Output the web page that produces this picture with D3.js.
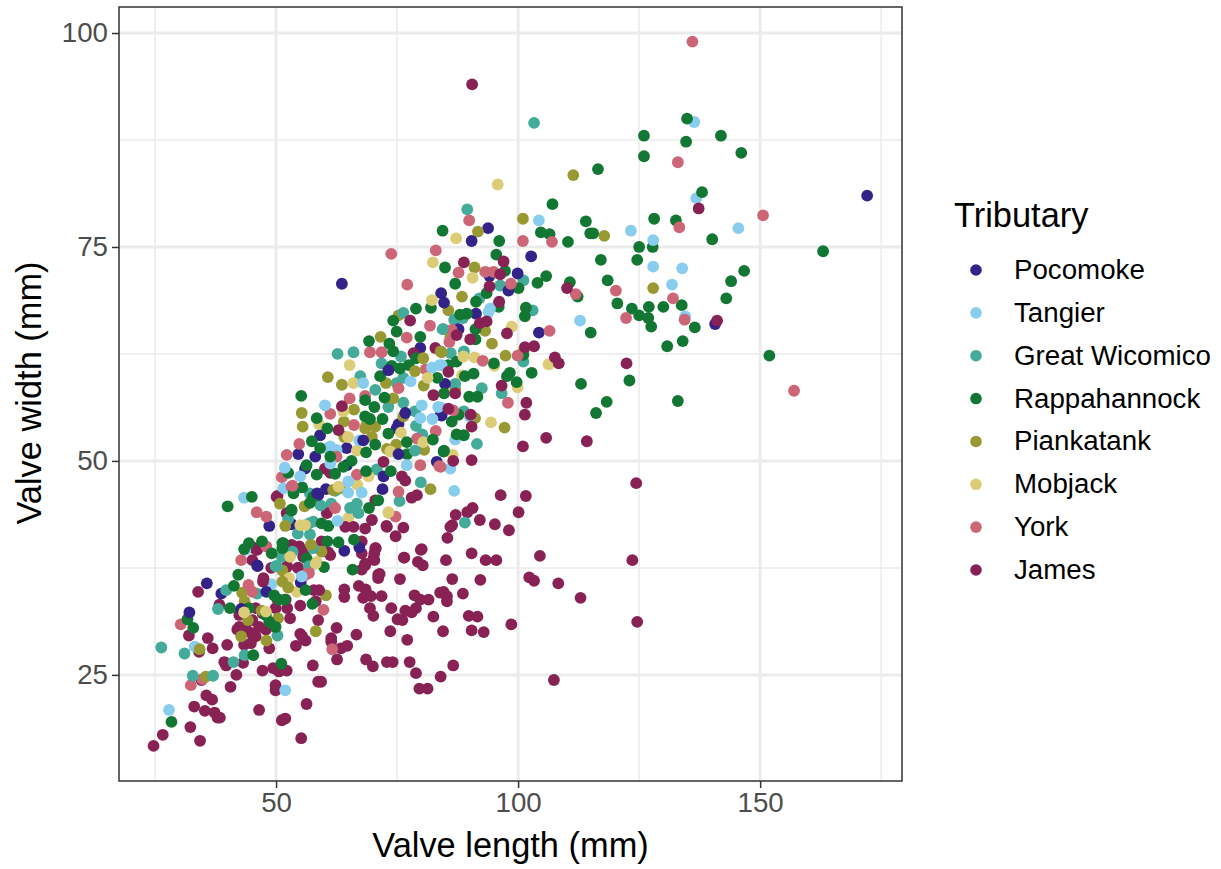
<!DOCTYPE html>
<html><head><meta charset="utf-8">
<script src="https://cdn.jsdelivr.net/npm/d3@7"></script>
<style>html,body{margin:0;padding:0;background:#fff}svg{display:block}text{font-family:"Liberation Sans",Arial,sans-serif}</style>
</head><body><div id="chart"></div>
<script>
const tributaries=["Pocomoke","Tangier","Great Wicomico","Rappahannock","Piankatank","Mobjack","York","James"];
const palette=["#332288","#88CCEE","#44AA99","#117733","#999933","#DDCC77","#CC6677","#882255"];
const xMajor=[50,100,150], xMinor=[25,75,125,175], yMajor=[25,50,75,100], yMinor=[37.5,62.5,87.5];
const pocomoke=[[172.1,81],[93.8,77.2],[63.6,70.7],[84.1,69.6],[102.7,73.9],[104.3,65],[140.7,66],[90.4,75.7],[94.1,71.6],[99.9,71.9],[98,69.9],[91.3,67.2],[84.7,68.5],[87.7,65.4],[84.2,55.3],[84.9,59],[79.8,63.2],[84,55.4],[75.3,54.3],[74.9,53.8],[83.2,49.9],[59.1,53],[54.6,50.8],[58.1,50.5],[64.6,51.5],[64.6,49.5],[56,49.1],[72.2,48.2],[72,46.7],[60.3,46.7],[58.7,46],[48.6,42.4],[53.2,42.6],[64.1,39.5],[67.2,39.9],[46.1,37.8],[73.2,60.6],[68,52.4],[75.3,50.8],[76.7,55.6],[35.7,35.7],[38.7,34.5],[48,34.7],[55.1,35.8],[42.8,32.7],[32.1,32.3],[58.5,46.2],[46.2,37.7]];
const tangier=[[136.4,89.6],[136.8,80.7],[145.5,77.2],[104.3,78.1],[123.3,76.9],[127.9,75.8],[127.9,72.7],[133.9,72.5],[131.8,70.6],[134.5,66.9],[112.8,66.4],[94.2,67.8],[93.9,67.4],[87,52.5],[86,49.1],[84.2,61.2],[90,55.2],[84.2,56.2],[86.8,46.5],[51.9,23.2],[27.9,20.9],[43.4,45.7],[33.2,28.3],[49,35.6],[55.4,36.4],[43.7,39.6],[51.5,46.8],[82.2,60.9],[83.8,61.2],[77.8,59.3],[68,59.1],[60.1,56.5],[80.1,56.5],[79.8,55],[82.3,54.9],[83.5,56.3],[67.2,52.4],[61.2,51.7],[60.6,51.5],[62.5,51.3],[61.2,49.7],[51.8,49.2],[55,48.2],[64.9,47.6],[64.9,46.3],[67.7,46.3],[62.7,43],[55.3,36.5],[77,49.5]];
const greatWicomico=[[103.3,89.5],[89.5,79.4],[101.1,71.1],[103,67.6],[95.9,68.3],[92,69],[96.3,70.5],[88.6,66.7],[86.8,66.5],[84.6,65.4],[86.1,62.6],[88.8,62.8],[92.5,58.5],[96.6,57.9],[101.1,61.6],[88.8,55.8],[91.5,52],[87,59],[89,42.8],[62.7,62.5],[66,62.7],[71.8,61.4],[75.8,62.2],[76.3,67.3],[84.4,65.4],[74.9,59.1],[76.3,59.7],[67.4,59.9],[70.5,58.3],[73.2,56.3],[76.3,56.8],[80.2,53.1],[78.9,54.1],[78.7,55.8],[70.8,49],[79.9,47.5],[75.5,45.3],[66.7,45],[65.3,44.5],[67,43.9],[61.4,45],[59.2,44.8],[57,46.2],[62.2,46.5],[56.8,42.7],[57.7,42.9],[52.5,43.2],[54.5,41.5],[57,41.4],[53.4,39.4],[51.2,38.8],[50.1,37.7],[56.9,37.6],[57.6,39.8],[78.7,51.2],[56.8,37.7],[49.9,37.7],[46.1,34.5],[39.7,34.9],[38,32.7],[50.3,29.6],[43.5,27.3],[41.2,26.5],[26.3,28.2],[31.1,27.5],[32.8,24.9],[37,24.9]];
const rappahannock=[[107.1,80],[84.4,76.9],[114,78],[128.1,78.3],[132.6,78.1],[104.7,76.7],[106.5,76.5],[114.9,76.6],[115.5,76.6],[110.3,75.6],[96.1,75.7],[125,75],[127.8,75],[95.5,74.1],[117.1,73.5],[124.6,73.5],[84.9,72.6],[97.3,72.2],[105.8,71.6],[104,70.8],[87,70.7],[118.5,71.1],[110.7,70.9],[112.3,69.2],[100.1,70.2],[93.5,69.6],[91.3,68.6],[96,68],[120.5,68.4],[123.5,67.8],[127,68],[125,67],[126.9,66.7],[127.5,65.7],[130,68],[133.8,68.2],[136.5,65.6],[130.8,63.4],[134,64],[115,65],[101.6,67.9],[101.4,66.9],[89.4,67.2],[88,67.1],[91.2,65.4],[91.2,64.2],[85.6,61.2],[87.3,61.6],[95,61.4],[90.8,60.2],[89,59.9],[98.3,60.3],[97.7,59.9],[99.7,59.2],[102.8,60.3],[101.1,62.4],[113,59],[123,59.4],[118.3,56.9],[116.1,55.6],[133,57],[89.9,57.5],[91.6,57.5],[87.7,55.4],[86.3,54.6],[88.8,53],[87.3,53.1],[84.7,51.2],[84.7,57.9],[134.9,90],[126,88],[141.9,88],[134.7,87.3],[126,85.6],[146.1,86],[138,81.4],[116.5,84.1],[140.1,75.9],[163,74.5],[146.7,72.2],[144,71],[143,69],[151.9,62.3],[78.9,67.8],[82,67.9],[74.2,66.4],[74.9,65.1],[79.8,64.5],[69.2,64],[73.4,63.7],[74.2,62.8],[77.4,61.2],[73.9,61.1],[71.5,59.9],[83.3,59.7],[75.6,60.8],[78.9,62],[55.2,57.6],[58.4,55],[60.6,53.8],[57.4,52.3],[68.4,57.1],[72.4,57.4],[70.3,56.3],[68.4,55.2],[69.4,54.9],[72,54.9],[73.2,53.2],[82.4,52.5],[84.6,51.1],[77,52.2],[77.1,50.8],[70.5,51.9],[68.6,51],[65.6,50],[68.6,48.8],[73.7,48.8],[62.2,48.5],[56.3,49.5],[52.5,48.6],[58.4,48.4],[55.4,46.9],[53.6,46.2],[57,45.1],[53.2,44.3],[59.4,42.7],[60.8,42.4],[69.2,44.5],[71.1,45.4],[66.1,40.8],[60.6,40.6],[62.9,40.5],[51.5,40.4],[47.1,40.6],[49.1,39.2],[56.3,38.6],[59.9,37.6],[65.8,37.3],[45,45.8],[57.7,45.8],[61.2,50.5],[59.1,51.5],[63.9,49.3],[40,44.7],[44.4,40.4],[43.4,39.7],[51.3,40.4],[51.3,39.8],[42.2,36.7],[41.3,35.4],[40.5,32.8],[44.4,32.8],[32.9,30.5],[31.7,31.5],[28.4,19.5],[45.3,27.3],[51.1,26.3],[47.9,32],[48.6,31.2],[49.9,30.6],[49.6,34.3],[50.6,33.8],[51.8,33.8],[56.1,34.9],[57.5,33.3],[53.2,44.2]];
const piankatank=[[111.4,83.4],[101,78.3],[117.8,76.3],[127.9,70.2],[91.7,76.8],[91,72.6],[88.4,69.2],[85.6,67.6],[93.2,65.2],[86,64.5],[94.6,63.7],[97.4,62.3],[84.2,62.7],[101.1,62.8],[87,58.4],[91.1,55],[97.2,53.9],[81.9,46.7],[60.3,34.3],[75.3,67],[71.6,64.5],[60.7,59.8],[63.6,58.9],[55.3,55.6],[55.5,54],[72.7,59.1],[66.1,56],[64,54.6],[64.1,52.8],[68.7,54.2],[70.5,54],[68.4,53.8],[69.8,52.8],[74.2,57.3],[76.3,55.2],[72.9,51.4],[74.8,51.9],[80.6,51.3],[80.5,58.8],[78.7,60.5],[80.4,62],[84,62.8],[55.9,44.7],[50.8,45],[51.9,42.4],[63.2,46.8],[51.3,37.2],[59.4,39.4],[61.8,46.6],[43,34.6],[43.5,33.6],[47,32.5],[44.2,31.4],[50.4,31.6],[42.8,29.5],[48,29],[34.2,28],[35.5,24.8],[51.3,35.9],[52.5,35.2],[58.2,30.1],[57.2,40.2]];
const mobjack=[[95.8,82.3],[87.2,76],[82.4,73.2],[90.6,71.4],[98.7,65.7],[91,62.1],[95.1,61.1],[88.4,60],[106.3,61.3],[99.9,58.6],[94.4,54.5],[86.5,50.7],[88.7,62.2],[73.3,43.9],[64.9,43.3],[66.8,47.2],[65.2,61.2],[66,59.1],[58.9,54.3],[63.9,55.8],[64.9,52.8],[66.7,51.2],[75.8,53.3],[73.6,51.1],[80.4,52.2],[81.3,59.7],[69.1,48.2],[73.2,44],[56,42.5],[58.4,38.2],[62.9,47],[52.9,38.8],[55,42.5],[82.2,68.8],[54.3,34.7],[52.7,36.3],[58.2,38],[47.9,32.4],[43.4,32.3]];
const york=[[136,99],[133,84.9],[133.3,77.3],[150.6,78.7],[157,58.2],[73.8,74.2],[83,74.6],[89.9,78.1],[77.1,70.6],[101,75.7],[107,75.6],[87.7,72],[93.2,72.1],[94.9,72.1],[120.2,69.9],[111.9,69.5],[132,69],[122.3,66.7],[134.4,66.5],[106.5,65.2],[98.5,70.7],[86.3,65.3],[85.8,63.9],[92.7,61.7],[99.9,62.3],[97.9,56.8],[86.6,55.9],[84,49.3],[77,64.4],[81.8,65.8],[69.4,62.7],[71.8,62.7],[80.9,60.7],[68.4,57.6],[65.2,57.3],[61.2,55.5],[66.1,54.2],[83,53.5],[79.1,52.6],[54.8,52],[52.2,50.7],[79.8,49.5],[51.2,48.1],[53.2,47],[66.7,48.4],[74.7,43.5],[75.3,46.4],[62.2,44.5],[46,44],[48,43.5],[83.7,49.4],[48,40],[62.5,50.5],[75.3,58.5],[42.8,38.4],[44.3,35.5],[45.1,34.7],[30.3,30.9],[32.4,23.8],[34.8,24.5],[53.4,47.1],[56.8,36.9],[56.1,36.7],[61.6,28],[59.8,32.6]];
const james=[[124.4,47.4],[96.4,46],[101.6,45.9],[78,45.7],[79.1,46],[90.6,44.5],[89.5,44],[100.1,44],[87.1,43.7],[92.1,43.1],[86.4,42.5],[95.2,42.6],[98.1,41.9],[76.3,42.2],[72.8,42.4],[74.7,41.2],[85.4,41],[79.9,39.6],[70.6,39.8],[70.3,39.2],[70.3,38.4],[76.4,38.7],[90.4,39.2],[79.3,38.2],[80.3,37.8],[85.1,38.4],[93.3,38.4],[95.5,38.4],[104.5,38.9],[123.6,38.4],[68.4,38],[67.7,37.3],[71.4,36.8],[71.1,36.3],[75.6,36.2],[86.4,36.2],[92.2,36.1],[102.3,36.4],[103.3,36],[108.3,35.7],[112.9,34],[67.1,35.4],[68.5,35],[64.1,35],[64.1,34.1],[68,34],[69.6,34.2],[71.8,34.2],[78.6,34.3],[79.8,33.8],[81.5,33.8],[83.9,34.6],[84.6,34.7],[85.3,34.2],[85.3,33.6],[88.6,34.5],[69.4,32.8],[70.1,31.9],[73.8,32.8],[76.7,32.5],[78.9,32.8],[78,32.3],[82.5,31.8],[89.8,31.9],[91.6,31.8],[75.1,31.5],[76.1,31.4],[98.6,30.9],[124.6,31.2],[62.5,30.5],[66.6,29.7],[73.6,30.1],[84.5,30.1],[90.4,30.2],[92.9,30],[77.1,29.1],[61.4,29.3],[61.4,28.9],[64.7,28.4],[63.4,28.1],[62.6,26.8],[68.6,26.8],[70,26],[72.9,26.5],[74.1,26.5],[77.6,26.5],[86.6,26.1],[78.9,25.2],[84,24.8],[107.4,24.4],[79.6,23.4],[81.3,23.4],[59.3,24.2],[24.7,16.7],[26.6,18],[32.3,18.9],[34.3,17.3],[33.1,21.3],[35.3,20.8],[37.3,20.6],[38.4,20],[37.9,20],[35.6,22.6],[36.8,22.1],[40.6,23.6],[46.5,20.9],[51.2,19.7],[51.9,19.9],[55.2,17.6],[56.3,21.6],[49.9,23.8],[49.9,23.2],[41.8,25],[34.6,24.4],[47.2,25.5],[49.4,25.8],[50.6,25.4],[52.2,25.5],[57.6,26.1],[58.7,24.2],[39.3,26.5],[39.7,26.1],[43.2,26.4],[36.9,28.1],[39.9,28.5],[34.1,27.7],[32,29.6],[35.9,29.3],[54.1,28.4],[55,29.8],[56.1,29],[55.4,29.5],[48.6,28.1],[52.9,31.6],[55,33.1],[38.3,33.2],[33.9,34.7],[42.4,32],[42,30.3],[43.7,30.6],[45.1,31.4],[46.5,30.6],[45.8,29.5],[43.4,28.5],[44.8,28.7],[42.7,32.2],[45.8,32.8],[47.9,30.3],[44.8,29.9],[47.2,32.2],[44.1,32.8],[42.4,30.6],[49.9,32.8],[52.3,32.8],[47.3,35.9],[50.3,45.9],[45.5,39.8],[45.1,38.4],[52.3,43.9],[49,37.5],[52.3,37.7],[54.5,37.5],[58.2,33.6],[58.9,34.9],[58.7,31.4],[57.8,34.9],[54.8,40],[55.8,39.4],[46.1,39.6],[50.3,33.8],[52,33.8],[53.4,39.8],[77.7,66.4],[78.4,62.6],[82.9,63.2],[82.5,57.7],[63.6,56.4],[62.9,53.6],[72.2,49.9],[76,48.2],[76.7,47.7],[60.1,49.1],[61.2,48.6],[70.5,45.4],[69.8,43.1],[60.5,43.9],[64.3,42.3],[66,42.3],[68.4,42.1],[72.9,42.3],[86,42.3],[80.1,39.7],[76.5,38.7],[70.5,39.8],[70.1,38.6],[68.4,37.8],[71.1,36.7],[67.7,40.6],[67.7,39.2],[52.2,43.9],[50.1,45.8],[54.3,39.8],[53.2,40.2],[46,39.8],[61.2,39],[54.6,37.5],[52.2,37.6],[47.4,36.3],[59.4,40.6],[60.8,39.3],[55.6,38.8],[88.8,73.2],[97,73.3],[96.3,71.8],[94.1,70.4],[96.1,68.6],[93.5,66.3],[92.1,66.1],[87.3,64.7],[90.1,64.2],[97.7,64.9],[107.6,62.1],[108.4,61.4],[103.3,63.4],[101.4,63.3],[110.1,70.2],[122.4,61.4],[96.6,58.8],[101.7,56.8],[101.4,55.4],[105.8,52.7],[101,51.7],[114.2,52.3],[90.4,50.1],[90.4,54],[90.2,55.4],[86.6,50],[87,57.9],[85.6,60.4],[137.3,79.5],[85.6,56.1],[141.1,66.4],[90.5,94]];
const seriesValues=[pocomoke,tangier,greatWicomico,rappahannock,piankatank,mobjack,york,james];

const W=1221,H=869;
const panel={left:119,right:902,top:7,bottom:781};
const x=d3.scaleLinear().domain([17.56,179.3]).range([panel.left,panel.right]);
const y=d3.scaleLinear().domain([12.6,103.04]).range([panel.bottom,panel.top]);
const color=d3.scaleOrdinal(tributaries,palette);
const svg=d3.select("#chart").append("svg").attr("width",W).attr("height",H);
const tickSize=27.7, titleSize=34.4;

const grid=svg.append("g").attr("fill","none").attr("stroke","#EBEBEB");
grid.selectAll(".vn").data(xMinor).join("line").attr("x1",x).attr("x2",x).attr("y1",panel.top).attr("y2",panel.bottom).attr("stroke-width",1.5);
grid.selectAll(".hn").data(yMinor).join("line").attr("y1",y).attr("y2",y).attr("x1",panel.left).attr("x2",panel.right).attr("stroke-width",1.5);
grid.selectAll(".vm").data(xMajor).join("line").attr("x1",x).attr("x2",x).attr("y1",panel.top).attr("y2",panel.bottom).attr("stroke-width",3);
grid.selectAll(".hm").data(yMajor).join("line").attr("y1",y).attr("y2",y).attr("x1",panel.left).attr("x2",panel.right).attr("stroke-width",3);

const points=seriesValues.flatMap((arr,s)=>arr.map((d,i)=>({l:d[0],w:d[1],t:tributaries[s],o:((i+0.5)/arr.length)*(s===7?0.8:1)+s*0.0007})));
points.sort((a,b)=>a.o-b.o);
svg.append("g").selectAll("circle").data(points).join("circle")
  .attr("cx",d=>x(d.l)).attr("cy",d=>y(d.w)).attr("r",5.9).attr("fill",d=>color(d.t));

svg.append("rect").attr("x",panel.left).attr("y",panel.top).attr("width",panel.right-panel.left).attr("height",panel.bottom-panel.top)
  .attr("fill","none").attr("stroke","#333333").attr("stroke-width",1.5);

const gx=svg.append("g").attr("transform",`translate(0,${panel.bottom})`).call(d3.axisBottom(x).tickValues(xMajor).tickSize(7).tickPadding(4).tickFormat(d3.format("d")));
const gy=svg.append("g").attr("transform",`translate(${panel.left},0)`).call(d3.axisLeft(y).tickValues(yMajor).tickSize(7).tickPadding(4).tickFormat(d3.format("d")));
[gx,gy].forEach(g=>{g.select(".domain").remove();g.selectAll(".tick line").attr("stroke","#333333").attr("stroke-width",1.5);
  g.selectAll("text").attr("fill","#4D4D4D").attr("font-size",tickSize).attr("font-family",'"Liberation Sans",Arial,sans-serif');});

svg.append("text").attr("x",(panel.left+panel.right)/2).attr("y",857).attr("text-anchor","middle").attr("font-size",titleSize).attr("fill","#000").text("Valve length (mm)");
svg.append("text").attr("transform",`translate(41,${(panel.top+panel.bottom)/2-1}) rotate(-90)`).attr("text-anchor","middle").attr("font-size",titleSize).attr("fill","#000").text("Valve width (mm)");

const lg=svg.append("g");
lg.append("text").attr("x",954).attr("y",227).attr("font-size",34.4).attr("fill","#000").text("Tributary");
const legendY=d3.scalePoint().domain(tributaries).range([270,570]);
const item=lg.selectAll(".item").data(tributaries).join("g").attr("transform",d=>`translate(0,${legendY(d)})`);
item.append("circle").attr("cx",976).attr("r",5.8).attr("fill",d=>color(d));
item.append("text").attr("x",1014).attr("y",9).attr("font-size",tickSize).attr("fill","#000").text(d=>d);
</script></body></html>
